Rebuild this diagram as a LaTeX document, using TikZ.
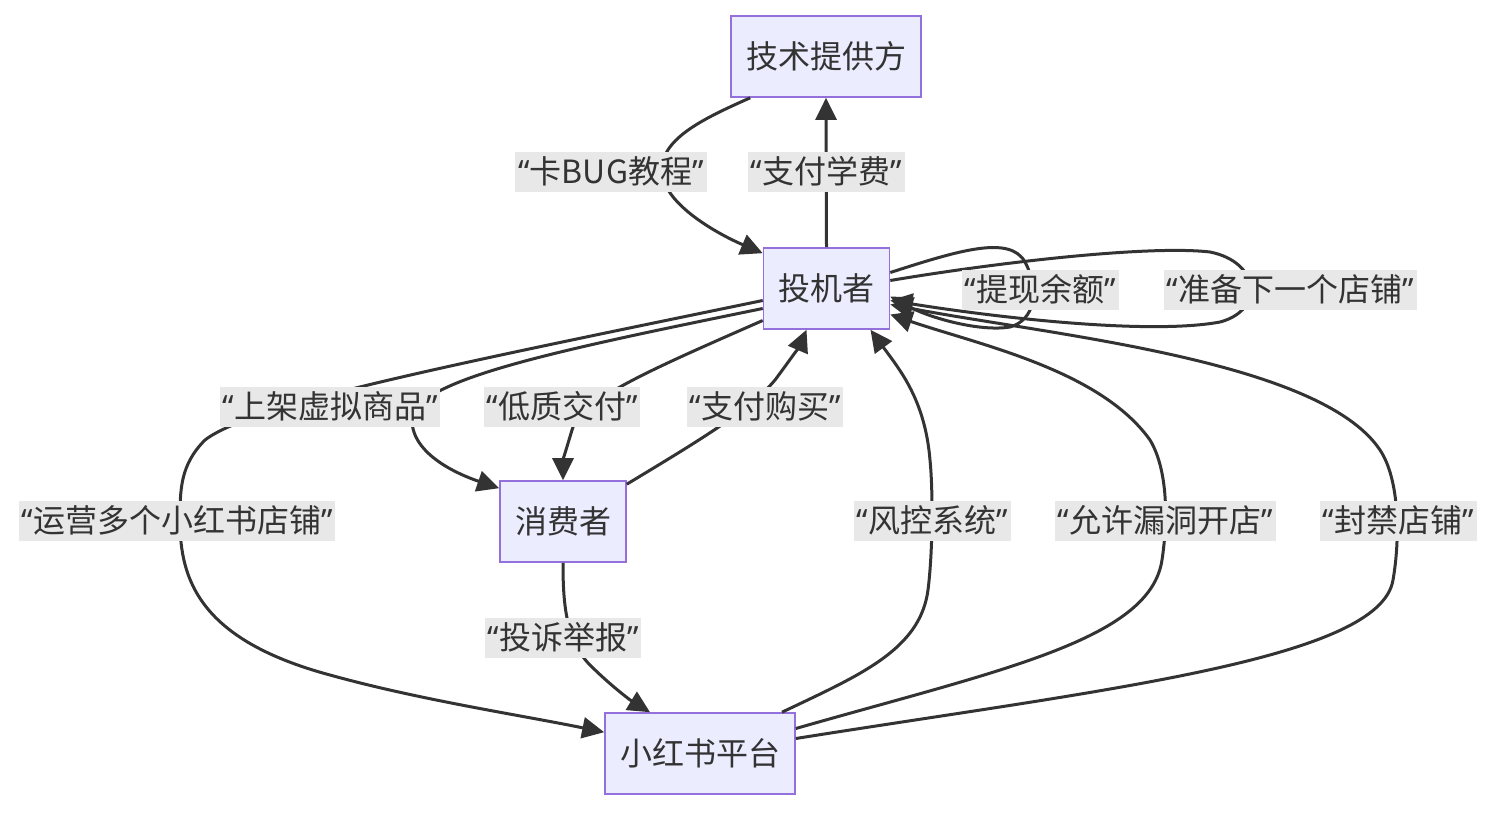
\documentclass[tikz,border=0pt]{standalone}
\usepackage{fontspec}
\setmainfont{Noto Sans CJK SC}
\newfontfamily\qfont{Noto Sans}
\usetikzlibrary{arrows.meta}
\newcommand\qt[1]{{\qfont “}#1{\qfont ”}}
\definecolor{nodefill}{HTML}{ECECFF}
\definecolor{nodeline}{HTML}{9370DB}
\definecolor{edgec}{HTML}{333333}
\definecolor{lblbg}{HTML}{E8E8E8}
\tikzset{
  box/.style={draw=nodeline, fill=nodefill, line width=1.6pt, minimum height=81pt, inner xsep=15pt, text=edgec, font=\fontsize{32pt}{36pt}\selectfont},
  lbl/.style={fill=lblbg, text=edgec, inner xsep=3pt, inner ysep=4pt, text height=27pt, text depth=4.5pt, font=\fontsize{32pt}{36pt}\selectfont},
  conn/.style={draw=edgec, line width=3pt, -{Triangle[length=22pt,width=21pt]}},
}
\begin{document}
\begin{tikzpicture}[x=1pt,y=-1pt]
\useasboundingbox (0,0) rectangle (1496,812);
\node[box] (tech) at (826,56.5) {技术提供方};
\node[box] (spec) at (826.5,288.5) {投机者};
\node[box] (cons) at (563,521.5) {消费者};
\node[box] (xhs) at (700,753.5) {小红书平台};

% edges
\draw[conn] ([xshift=20pt]tech.south west) .. controls (700,120) and (660,140) .. (662,172) .. controls (664,205) and (720,235) .. ([yshift=-6pt]spec.north west);
\draw[conn] (spec.north) -- (tech.south);
\draw[conn] ([yshift=16pt]spec.east) .. controls (960,250) and (1010,235) .. (1025,262) .. controls (1040,290) and (1035,320) .. (1010,327) .. controls (980,332) and (930,318) .. ([yshift=-8pt]spec.east);
\draw[conn] ([yshift=8pt]spec.east) .. controls (1000,262) and (1150,245) .. (1210,252) .. controls (1260,262) and (1265,310) .. (1220,322) .. controls (1150,335) and (1000,318) .. ([yshift=-12pt]spec.east);
\draw[conn] ([yshift=-12pt]spec.west) .. controls (450,365) and (250,405) .. (205,440) .. controls (180,465) and (180,490) .. (180,521) .. controls (180,580) and (200,640) .. (330,675) .. controls (420,700) and (520,715) .. ([yshift=-20pt]xhs.north west);
\draw[conn] ([yshift=-20pt]spec.west) .. controls (560,350) and (412,380) .. (412,420) .. controls (412,455) and (460,475) .. ([yshift=-8pt]cons.north west);
\draw[conn] ([yshift=-32pt]spec.west) .. controls (650,370) and (580,400) .. (572,430) .. controls (566,450) and (563,460) .. (cons.north);
\draw[conn] ([yshift=-4pt]cons.north east) .. controls (700,440) and (750,410) .. (775,380) .. controls (790,360) and (800,345) .. ([xshift=-20pt]spec.south);
\draw[conn] (cons.south) .. controls (563,600) and (565,640) .. (590,665) .. controls (610,685) and (630,700) .. ([xshift=-50pt]xhs.north);
\draw[conn] ([xshift=82pt]xhs.north) .. controls (860,675) and (920,650) .. (928,590) .. controls (933,550) and (933,490) .. (930,460) .. controls (925,400) and (900,370) .. ([xshift=44pt]spec.south);
\draw[conn] ([yshift=25pt]xhs.east) .. controls (1000,670) and (1150,640) .. (1162,560) .. controls (1168,520) and (1168,470) .. (1150,440) .. controls (1100,370) and (980,345) .. ([yshift=-26pt]spec.east);
\draw[conn] ([yshift=15pt]xhs.east) .. controls (1100,690) and (1380,660) .. (1393,580) .. controls (1400,540) and (1400,480) .. (1380,450) .. controls (1320,360) and (1050,335) .. ([yshift=-16pt]spec.east);

% labels
\node[lbl] (l1) at (611,172) {\qt{卡BUG教程}};
\node[lbl] (l2) at (826,172) {\qt{支付学费}};
\node[lbl] (l3) at (1040,290) {\qt{提现余额}};
\node[lbl] (l4) at (1290,290) {\qt{准备下一个店铺}};
\node[lbl] (l5) at (330,407) {\qt{上架虚拟商品}};
\node[lbl] (l6) at (562,407) {\qt{低质交付}};
\node[lbl] (l7) at (765,407) {\qt{支付购买}};
\node[lbl] (l8) at (177,521) {\qt{运营多个小红书店铺}};
\node[lbl] (l9) at (932,521) {\qt{风控系统}};
\node[lbl] (l10) at (1165,521) {\qt{允许漏洞开店}};
\node[lbl] (l11) at (1398,521) {\qt{封禁店铺}};
\node[lbl] (l12) at (563,638) {\qt{投诉举报}};
\end{tikzpicture}
\end{document}
